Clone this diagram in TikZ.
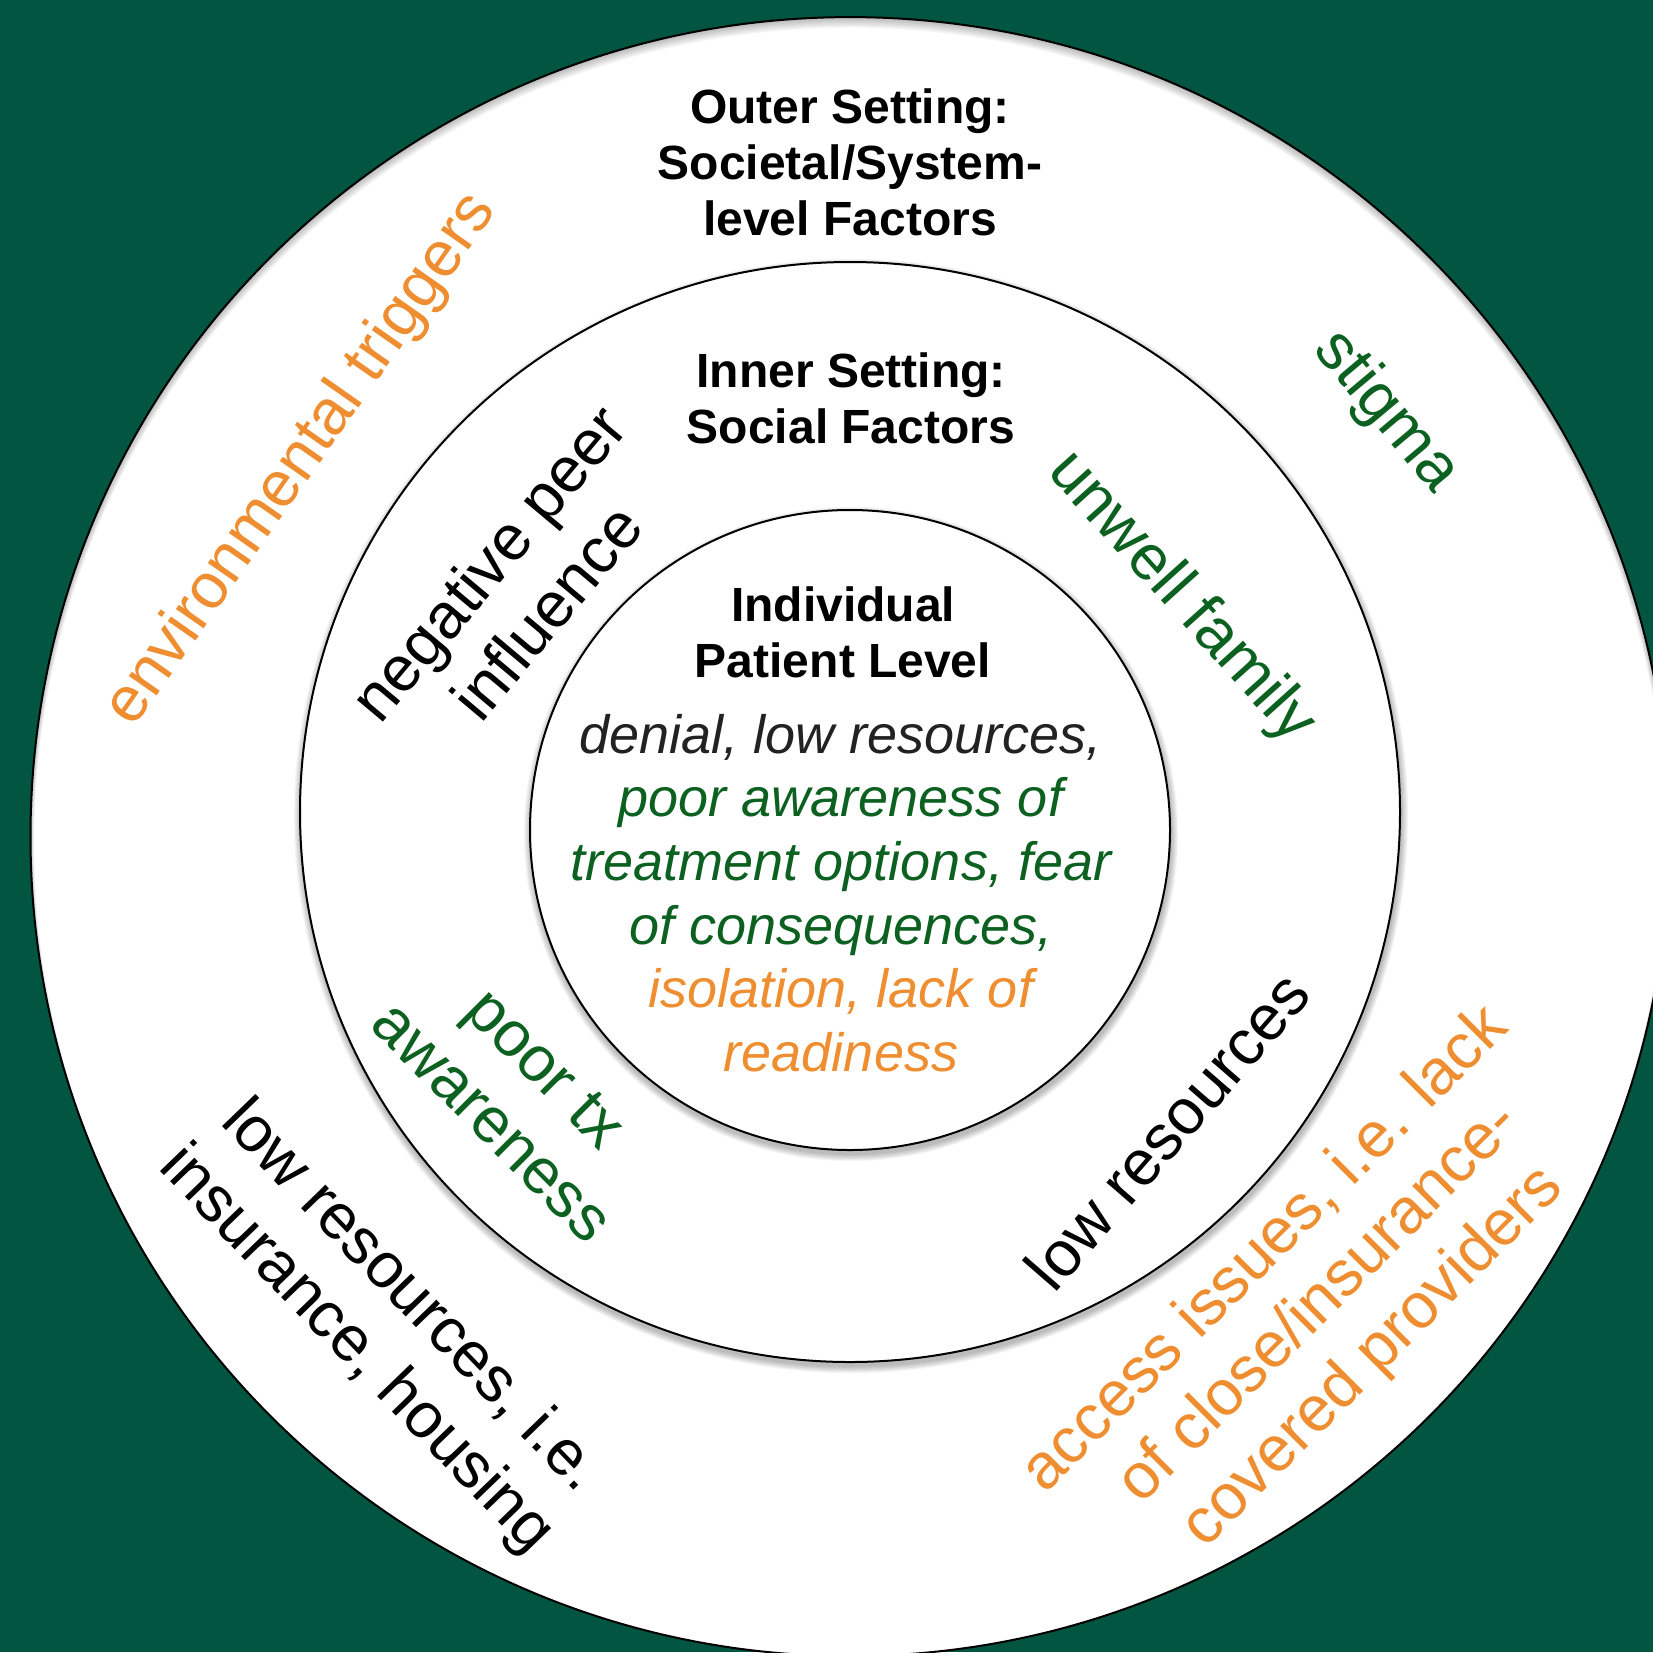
\documentclass[tikz,border=0pt]{standalone}
\usepackage{fontspec}
\setmainfont{Liberation Sans}
\definecolor{bggreen}{RGB}{2,85,64}
\definecolor{txtgreen}{RGB}{12,96,32}
\definecolor{txtorange}{RGB}{239,142,48}
\definecolor{txtdark}{RGB}{34,34,34}
\begin{document}
\begin{tikzpicture}[x=1pt,y=-1pt,
  ring/.style={draw=black,line width=2pt,fill=white},
  heading/.style={inner sep=0pt,align=center,font=\bfseries\fontsize{48}{56}\selectfont},
  factor/.style={inner sep=0pt,align=center,font=\fontsize{64}{76}\selectfont},
  patient/.style={inner sep=0pt,align=center,font=\itshape\fontsize{54}{63.6}\selectfont}]

% canvas
\fill[bggreen] (0,0) rectangle (1653,1652);
\useasboundingbox (0,0) rectangle (1653,1652);

% outer setting disc with a soft inner shadow along its upper rim
\fill[white] (850,836.6) circle[radius=819.5pt];
\begin{scope}
  \clip (850,836.6) circle[radius=819.5pt];
  \foreach \k in {1,...,6}
    \fill[black,opacity=0.045,even odd rule]
      (850,836.6) circle[radius=830pt]
      (850,836.6+1+\k) circle[radius=819.5pt-\k*0.6pt];
\end{scope}
\draw[line width=2pt] (850,836.6) circle[radius=819.5pt];

% inner setting disc with drop shadow
\foreach \k in {1,...,8}
  \fill[black,opacity=0.035] (851,816) circle[radius=550pt+\k*0.9pt];
\node[ring,circle,minimum size=1100pt,inner sep=0pt] (inner) at (850,812) {};

% individual level disc with drop shadow
\foreach \k in {1,...,8}
  \fill[black,opacity=0.035] (851,834) circle[radius=320pt+\k*0.9pt];
\node[ring,circle,minimum size=640pt,inner sep=0pt] (core) at (850,830) {};

% level headings
\node[heading] (outerhead) at (850,162) {Outer Setting:\\Societal/System-\\level Factors};
\node[heading] (innerhead) at (851,398) {Inner Setting:\\Social Factors};
\node[heading] (corehead) at (843,632) {Individual\\Patient Level};

% individual-level factors
\node[patient] (corelist) at (841,893) {%
  \textcolor{txtdark}{denial, low resources,}\\
  \textcolor{txtgreen}{poor awareness of}\\
  \textcolor{txtgreen}{treatment options, fear}\\
  \textcolor{txtgreen}{of consequences,}\\
  \textcolor{txtorange}{isolation, lack of}\\
  \textcolor{txtorange}{readiness}};

% social factors
\node[factor,rotate=50] (peer) at (517,587) {negative peer\\influence};
\node[factor,rotate=-48,text=txtgreen] (family) at (1181,598) {unwell family};
\node[factor,rotate=-45,text=txtgreen] (aware) at (519,1095) {poor tx\\awareness};
\node[factor,rotate=49] (lowres) at (1167,1130) {low resources};

% societal/system-level factors
\node[factor,rotate=55,text=txtorange] (triggers) at (302,460) {environmental triggers};
\node[factor,rotate=-50,text=txtgreen] (stigma) at (1386,412) {stigma};
\node[factor,rotate=-46] (housing) at (383,1324) {low resources, i.e.\\insurance, housing};
\node[factor,rotate=45,text=txtorange] (access) at (1320,1304) {access issues, i.e. lack\\of close/insurance-\\covered providers};
\end{tikzpicture}
\end{document}
